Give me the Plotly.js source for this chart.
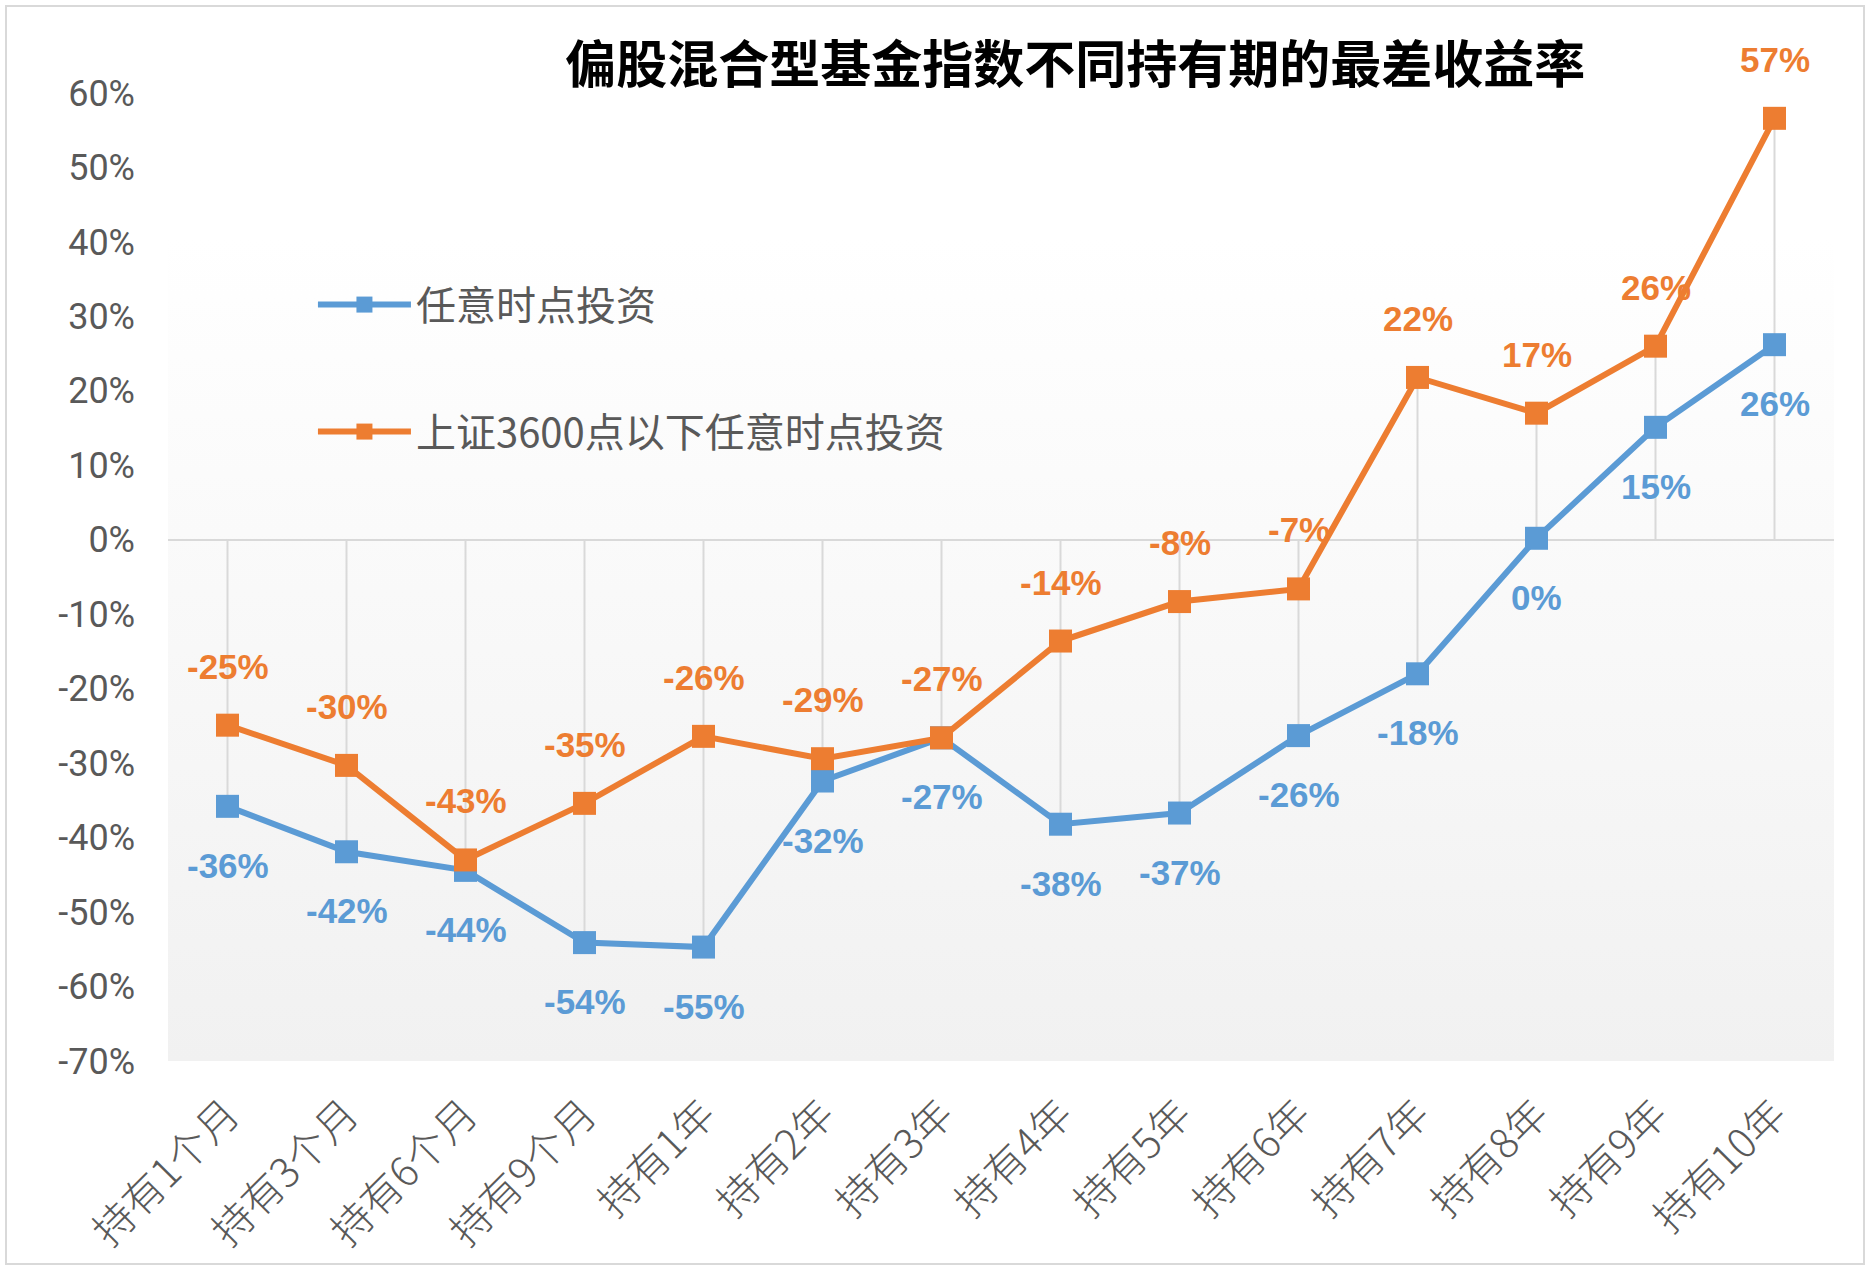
<!DOCTYPE html>
<html>
<head>
<meta charset="utf-8">
<script src="https://cdn.plot.ly/plotly-3.0.1.min.js"></script>
<style>
  html, body { margin: 0; padding: 0; background: #ffffff; }
  #wrap { position: relative; width: 1870px; height: 1274px; }
  #chart { position: absolute; left: 0; top: 0; width: 1870px; height: 1274px; }
  #frame { position: absolute; left: 5px; top: 5px; width: 1856px; height: 1256px;
           border: 2px solid #d9d9d9; pointer-events: none; }
</style>
</head>
<body>
<div id="wrap">
  <div id="chart"></div>
  <div id="frame"></div>
</div>
<script>
// ---- data ----
const categories = ["持有1个月", "持有3个月", "持有6个月", "持有9个月", "持有1年", "持有2年", "持有3年",
                    "持有4年", "持有5年", "持有6年", "持有7年", "持有8年", "持有9年", "持有10年"];
const seriesAnyName = "任意时点投资";
const seriesAnyValues = [-35.8, -41.9, -44.4, -54.1, -54.7, -32.4, -26.6, -38.2, -36.7, -26.3, -18.0, 0.2, 15.1, 26.2];
const seriesLowName = "上证3600点以下任意时点投资";
const seriesLowValues = [-24.9, -30.3, -43.0, -35.4, -26.4, -29.4, -26.6, -13.6, -8.3, -6.6, 21.8, 17.0, 26.0, 56.6];
const yTickVals = [-70, -60, -50, -40, -30, -20, -10, 0, 10, 20, 30, 40, 50, 60];
const yTickText = ["-70%", "-60%", "-50%", "-40%", "-30%", "-20%", "-10%", "0%", "10%", "20%", "30%", "40%", "50%", "60%"];
const chartTitle = "偏股混合型基金指数不同持有期的最差收益率";

// ---- styles ----
const BLUE = "#5b9bd5";
const ORANGE = "#ed7d31";
const GRAY_TEXT = "#595959";
const CJK = "'Noto Sans CJK SC', 'Noto Sans', sans-serif";
const NUM = "Roboto, 'Liberation Sans', sans-serif";
const LABEL = "'Liberation Sans', Arial, sans-serif";

// drop lines from data (span of 0 and both series at each category)
const dropX = [], dropY = [];
categories.forEach((c, i) => {
  const lo = Math.min(0, seriesAnyValues[i], seriesLowValues[i]);
  const hi = Math.max(0, seriesAnyValues[i], seriesLowValues[i]);
  dropX.push(c, c, null);
  dropY.push(lo, hi, null);
});

const fmt = v => Math.round(v) + "%";

const traces = [
  {
    x: dropX, y: dropY, type: "scatter", mode: "lines",
    line: { color: "#d9d9d9", width: 2 },
    hoverinfo: "skip", showlegend: false
  },
  {
    name: seriesAnyName, x: categories, y: seriesAnyValues, type: "scatter", mode: "lines+markers",
    line: { color: BLUE, width: 6 },
    marker: { symbol: "square", size: 23, color: BLUE },
    legendgroup: "a", hoverinfo: "skip"
  },
  {
    name: seriesLowName, x: categories, y: seriesLowValues, type: "scatter", mode: "lines+markers",
    line: { color: ORANGE, width: 6 },
    marker: { symbol: "square", size: 23, color: ORANGE },
    legendgroup: "b", hoverinfo: "skip"
  }
];

const annotations = [];
categories.forEach((c, i) => {
  annotations.push({
    x: c, y: seriesLowValues[i], xref: "x", yref: "y", text: fmt(seriesLowValues[i]),
    showarrow: false, yshift: 59, xanchor: "center", yanchor: "middle",
    font: { family: LABEL, size: 35, color: ORANGE, weight: "bold" }
  });
  annotations.push({
    x: c, y: seriesAnyValues[i], xref: "x", yref: "y", text: fmt(seriesAnyValues[i]),
    showarrow: false, yshift: -59, xanchor: "center", yanchor: "middle",
    font: { family: LABEL, size: 35, color: BLUE, weight: "bold" }
  });
});

const gradSvg = '<svg xmlns="http://www.w3.org/2000/svg" width="100" height="100" viewBox="0 0 100 100" preserveAspectRatio="none">' +
  '<defs><linearGradient id="g" x1="0" y1="0" x2="0" y2="1">' +
  '<stop offset="0" stop-color="#ffffff"/><stop offset="0.15" stop-color="#ffffff"/><stop offset="1" stop-color="#f1f1f1"/>' +
  '</linearGradient></defs><rect x="0" y="0" width="100" height="100" fill="url(#g)"/></svg>';

const layout = {
  width: 1870, height: 1274,
  margin: { l: 168, r: 36, t: 93, b: 213, pad: 0 },
  paper_bgcolor: "#ffffff",
  plot_bgcolor: "rgba(0,0,0,0)",
  title: {
    text: chartTitle, xref: "container", yref: "container",
    x: 0.575, xanchor: "center", y: 0.949, yanchor: "middle",
    font: { family: CJK, size: 51, color: "#000000", weight: "bold" }
  },
  xaxis: {
    type: "category", range: [-0.5, 13.5],
    tickangle: -45, showgrid: false, zeroline: false, showline: false, ticks: "",
    ticklabelstandoff: 20,
    tickfont: { family: CJK, size: 41, color: GRAY_TEXT, weight: 300 }
  },
  yaxis: {
    range: [-70, 60], tickvals: yTickVals, ticktext: yTickText,
    showgrid: false, showline: false, ticks: "",
    zeroline: true, zerolinecolor: "#d9d9d9", zerolinewidth: 2,
    ticklabelstandoff: 32,
    tickfont: { family: NUM, size: 36, color: GRAY_TEXT }
  },
  showlegend: true,
  legend: {
    x: 0.087, y: 0.815, xanchor: "left", yanchor: "top",
    bgcolor: "rgba(0,0,0,0)", itemwidth: 93, tracegroupgap: 72,
    font: { family: CJK, size: 40, color: GRAY_TEXT }
  },
  images: [{
    source: "data:image/svg+xml;charset=utf-8," + encodeURIComponent(gradSvg),
    xref: "paper", yref: "paper", x: 0, y: 1, sizex: 1, sizey: 1,
    xanchor: "left", yanchor: "top", sizing: "stretch", layer: "below"
  }],
  annotations: annotations,
  hovermode: false
};

Plotly.newPlot("chart", traces, layout, { displayModeBar: false, staticPlot: true });
</script>
</body>
</html>
